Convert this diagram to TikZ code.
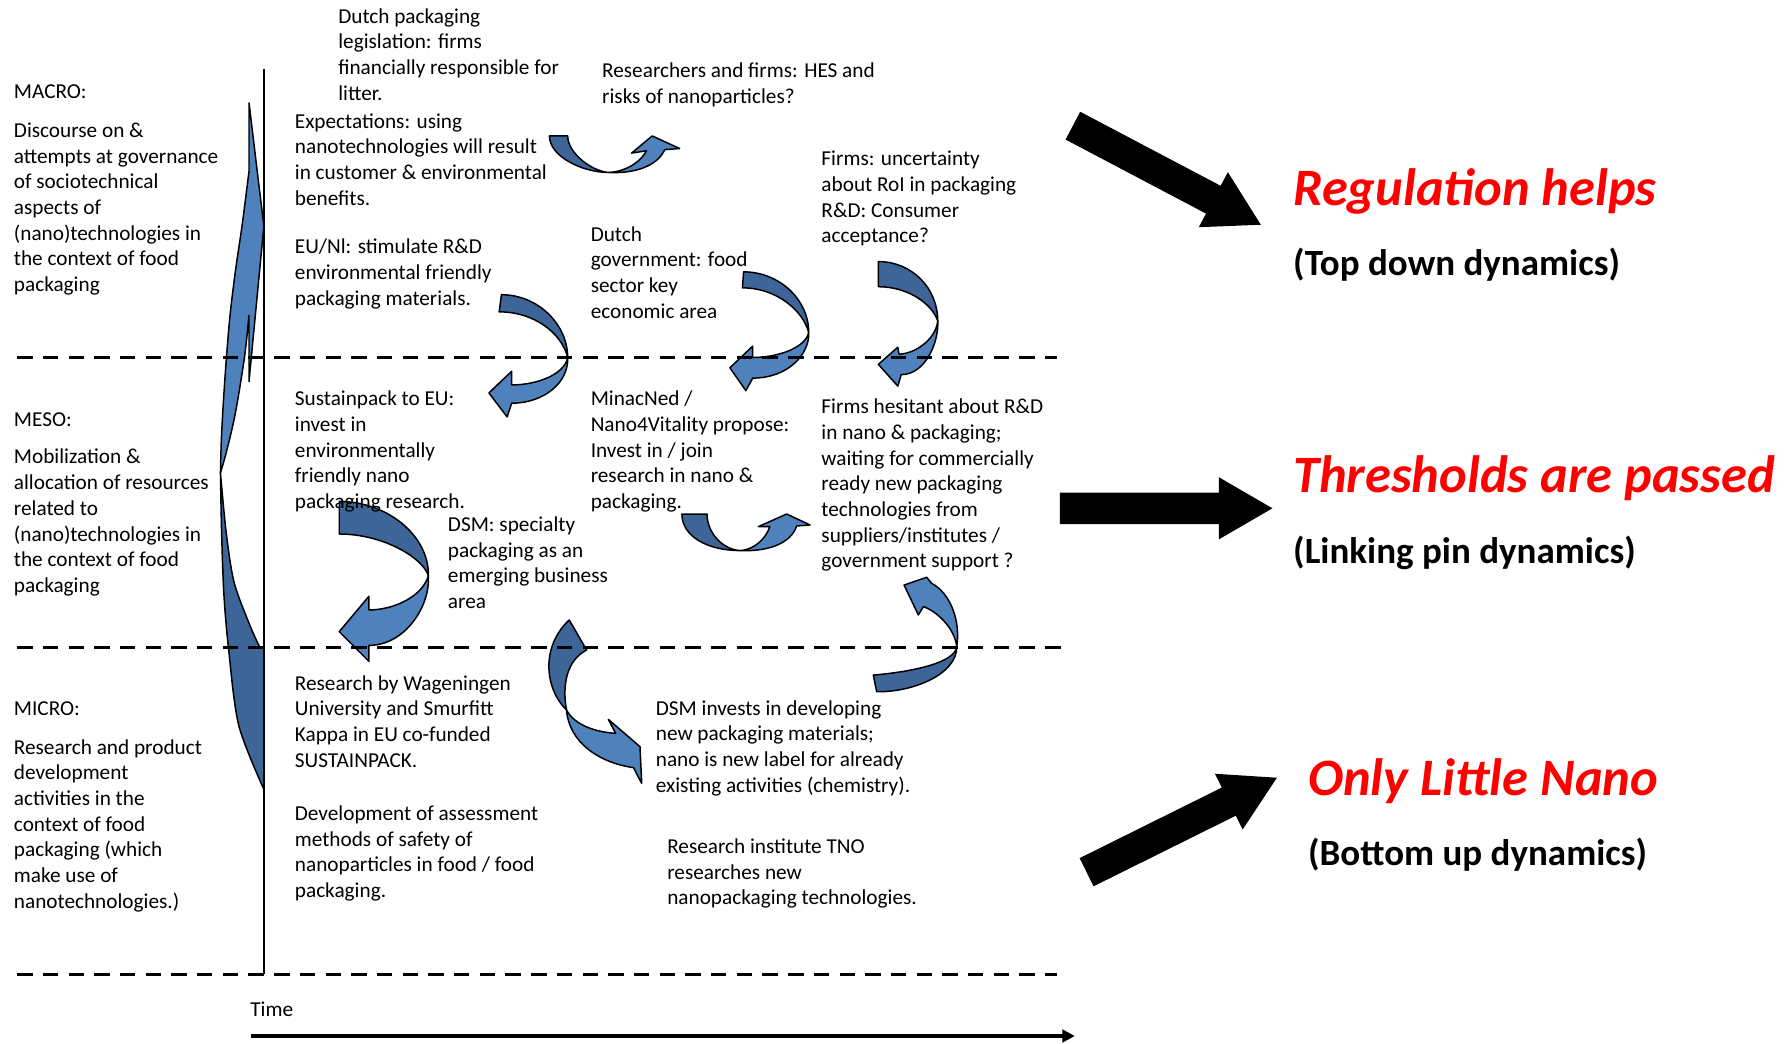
\documentclass[tikz,border=0pt]{standalone}
\usepackage{fontspec}
\setmainfont{Carlito}
\usetikzlibrary{arrows.meta}
\definecolor{blueL}{RGB}{79,129,189}
\definecolor{blueD}{RGB}{62,101,152}
\definecolor{redT}{RGB}{255,0,0}
\newcommand{\bodyfont}{\fontsize{18.6}{22.5}\selectfont}
\newcommand{\bigarrow}[3]{%
  \begin{scope}[shift={(#1,#2)},rotate=#3]
    \fill[black] (0,-13.75) -- (139,-13.75) -- (139,-27.25) -- (186,0) -- (139,27.25) -- (139,13.75) -- (0,13.75) -- cycle;
  \end{scope}}
\tikzset{
  txt/.style={anchor=north west, inner sep=0pt, align=left, font=\bodyfont},
  redtitle/.style={anchor=base west, inner sep=0pt, text=redT, font=\fontsize{46}{55}\selectfont\bfseries\itshape},
  subtitle/.style={anchor=base west, inner sep=0pt, font=\fontsize{32.4}{39}\selectfont\bfseries},
  back/.style={fill=blueD, draw=black, line width=1.3pt, line join=round},
  front/.style={fill=blueL, draw=black, line width=1.3pt, line join=round},
  levelline/.style={line width=2.2pt, dash pattern=on 13.5pt off 9pt},
}
\begin{document}
\begin{tikzpicture}[x=1pt,y=-1pt]
\useasboundingbox (0,0) rectangle (1568,914);

% ---------- big curved arrow on the left ----------
\path[front] (218,90) -- (231,198) -- (218,334) -- (218,276)
  -- plot[smooth] coordinates {(218,276) (214,313) (206,362) (198.4,395) (193,414)}
  -- plot[smooth] coordinates {(193,414) (194,380) (197,330) (201,280) (206,238) (212,197) (218,150)} -- cycle;
\path[back] plot[smooth] coordinates {(193,414) (194,466) (196,520) (200,567) (209,635) (231,691)}
  -- (231,567) -- (227.6,567)
  -- plot[smooth] coordinates {(227.6,567) (219,548) (205,510) (198,466) (193,414)} -- cycle;

% ---------- A1 (top U arrow) ----------
\path[back] (481,119) .. controls (481,137) and (510,151) .. (533,151)
  .. controls (518,150) and (497,134) .. (497,119) -- cycle;
\path[front] (533,151) .. controls (550,150) and (562,140) .. (566,132)
  -- (553,134) -- (571,119) -- (595,130) -- (582,131)
  .. controls (575,146) and (555,152) .. (533,151) -- cycle;

% ---------- A2 ----------
\path[back] (439,258) .. controls (471,258) and (497,284) .. (497,313)
  .. controls (492,292) and (468,273) .. (437,273) -- cycle;
\path[front] (497,313) .. controls (494,328) and (470,337) .. (448,337)
  -- (448,325) -- (428,344) -- (444,365) -- (448,353)
  .. controls (476,353) and (498,335) .. (497,313) -- cycle;

% ---------- A3 ----------
\path[back] (651,238) .. controls (682,238) and (708,262) .. (708,291)
  .. controls (703,272) and (680,252) .. (650,252) -- cycle;
\path[front] (708,291) .. controls (705,305) and (680,313) .. (659,313)
  -- (659,303) -- (639,322) -- (653,342) -- (659,331)
  .. controls (690,331) and (709,310) .. (708,291) -- cycle;

% ---------- A4 ----------
\path[back] (769,229) .. controls (798,229) and (821,252) .. (821,281)
  .. controls (816,266) and (795,251) .. (769,251) -- cycle;
\path[front] (821,281) .. controls (819,298) and (800,310) .. (787,310)
  -- (786,304) -- (769,319) -- (786,338) -- (789,328)
  .. controls (810,328) and (822,300) .. (821,281) -- cycle;

% ---------- A5 ----------
\path[back] (297,439) .. controls (340,439) and (376,470) .. (375,504)
  .. controls (370,488) and (335,467.5) .. (297,467.5) -- cycle;
\path[front] (375,504) .. controls (370,522) and (345,534) .. (323,534)
  -- (323,522) -- (297,553) -- (323,579) -- (323,565)
  .. controls (355,565) and (377,530) .. (375,504) -- cycle;

% ---------- A6 (lower U arrow) ----------
\path[back] (597,450) .. controls (597,470) and (620,482) .. (648,482)
  .. controls (632,481) and (619,466) .. (619,450) -- cycle;
\path[front] (648,482) .. controls (662,481) and (671,470) .. (674,461)
  -- (664,461) -- (688.7,450) -- (709.2,459.6) -- (697.5,460.5)
  .. controls (692,477) and (670,483) .. (648,482) -- cycle;

% ---------- A7 ----------
\path[back] (498.4,542.8) .. controls (474,565) and (476,602) .. (496,621.6)
  .. controls (492,600) and (496,578) .. (513.6,569.1) -- cycle;
\path[front] (496,621.6) .. controls (503,635) and (522,641) .. (539,642)
  -- (532.6,629.8) -- (560.3,653.7) -- (561.8,685.9) -- (554.6,672)
  .. controls (525,668) and (498,650) .. (496,621.6) -- cycle;

% ---------- A8 ----------
\path[back] (764.6,591) .. controls (800,588) and (836,580) .. (837.6,566.2)
  .. controls (838,590) and (800,606) .. (767.5,605.6) -- cycle;
\path[front] (837.6,566.2) .. controls (836,550) and (820,535) .. (808.4,531.1)
  -- (804,538.4) -- (791.5,512.2) -- (811.3,505.4) -- (815.7,510.7)
  .. controls (833,520) and (841,545) .. (837.6,566.2) -- cycle;

% ---------- level lines and axes ----------
\coordinate (d1a) at (15,313);  \coordinate (d1b) at (925,313);
\coordinate (d2a) at (15,567);  \coordinate (d2b) at (932,567);
\coordinate (d3a) at (15,853);  \coordinate (d3b) at (925,853);
\draw[levelline] (d1a) -- (d1b);
\draw[levelline] (d2a) -- (d2b);
\draw[levelline] (d3a) -- (d3b);
\coordinate (vtop) at (231,60); \coordinate (vbot) at (231,853);
\draw[line width=1.6pt] (vtop) -- (vbot);
\coordinate (t0) at (220,907); \coordinate (t1) at (941,907);
\draw[line width=3.2pt, -{Triangle[length=11pt,width=11pt]}] (t0) -- (t1);

% ---------- black block arrows ----------
\bigarrow{939.3}{110}{-27.8}
\bigarrow{928}{445}{0}
\bigarrow{951.3}{763.6}{26.4}

% ---------- texts ----------
\node[txt] (macro) at (12,70.25) {\strut MACRO:};
\node[txt] (macrob) at (12,104.25) {\strut Discourse on \&\\attempts at governance\\of sociotechnical\\aspects of\\(nano)technologies in\\the context of food\\packaging};
\node[txt] (meso) at (12,357.25) {\strut MESO:};
\node[txt] (mesob) at (12,390.25) {\strut Mobilization \&\\allocation of resources\\related to\\(nano)technologies in\\the context of food\\packaging};
\node[txt] (micro) at (12,610.25) {\strut MICRO:};
\node[txt] (microb) at (12,644.25) {\strut Research and product\\development\\activities in the\\context of food\\packaging (which\\make use of\\nanotechnologies.)};

\node[txt] (legis) at (296,4.25) {\strut Dutch packaging\\legislation: firms\\financially responsible for\\litter.};
\node[txt] (hes) at (527,52.25) {\strut Researchers and firms: HES and\\risks of nanoparticles?};
\node[txt] (expect) at (258,96.25) {\strut Expectations: using\\nanotechnologies will result\\in customer \& environmental\\benefits.};
\node[txt] (roi) at (719,129.25) {\strut Firms: uncertainty\\about RoI in packaging\\R\&D: Consumer\\acceptance?};
\node[txt] (eunl) at (258,206.25) {\strut EU/Nl: stimulate R\&D\\environmental friendly\\packaging materials.};
\node[txt] (gov) at (517,195.25) {\strut Dutch\\government: food\\sector key\\economic area};
\node[txt] (sust) at (258,339.25) {\strut Sustainpack to EU:\\invest in\\environmentally\\friendly nano\\packaging research.};
\node[txt] (minac) at (517,339.25) {\strut MinacNed /\\Nano4Vitality propose:\\Invest in / join\\research in nano \&\\packaging.};
\node[txt] (hesit) at (719,346.25) {\strut Firms hesitant about R\&D\\in nano \& packaging;\\waiting for commercially\\ready new packaging\\technologies from\\suppliers/institutes /\\government support ?};
\node[txt] (dsmsp) at (392,449.25) {\strut DSM: specialty\\packaging as an\\emerging business\\area};
\node[txt] (wur) at (258,588.25) {\strut Research by Wageningen\\University and Smurfitt\\Kappa in EU co-funded\\SUSTAINPACK.};
\node[txt] (dsminv) at (574,610.25) {\strut DSM invests in developing\\new packaging materials;\\nano is new label for already\\existing activities (chemistry).};
\node[txt] (assess) at (258,702.25) {\strut Development of assessment\\methods of safety of\\nanoparticles in food / food\\packaging.};
\node[txt] (tno) at (584,731.25) {\strut Research institute TNO\\researches new\\nanopackaging technologies.};
\node[txt] (time) at (219,874.25) {\strut Time};

\node[redtitle] (reg) at (1132,180) {Regulation helps};
\node[subtitle] (regs) at (1132,241) {(Top down dynamics)};
\node[redtitle] (thr) at (1132,431) {Thresholds are passed};
\node[subtitle] (thrs) at (1132,493) {(Linking pin dynamics)};
\node[redtitle] (onl) at (1145,696) {Only Little Nano};
\node[subtitle] (onls) at (1145,758) {(Bottom up dynamics)};
\end{tikzpicture}
\end{document}
